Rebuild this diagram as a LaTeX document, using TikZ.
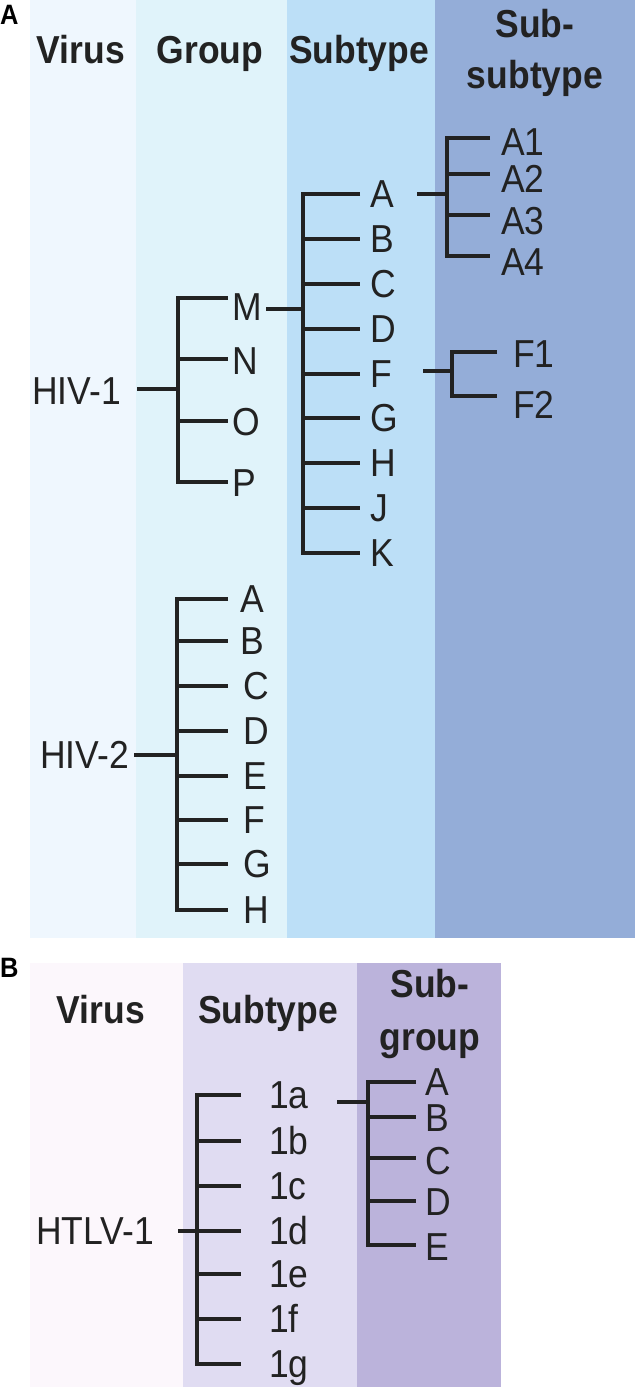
\documentclass[tikz,border=0pt]{standalone}
\usepackage{fontspec}
\setmainfont{Liberation Sans}[FakeStretch=0.91]
\definecolor{aV}{HTML}{EFF7FE}
\definecolor{aG}{HTML}{E0F3FA}
\definecolor{aS}{HTML}{BCDFF7}
\definecolor{aSS}{HTML}{94ADD8}
\definecolor{bV}{HTML}{FCF7FC}
\definecolor{bS}{HTML}{E0DCF2}
\definecolor{bSG}{HTML}{BBB3DB}
\definecolor{ink}{HTML}{222222}
\begin{document}
\begin{tikzpicture}[x=1pt,y=-1pt,
  lbl/.style={anchor=west,inner sep=0pt,text height=27.9pt,text depth=0pt,font=\fontsize{39}{42}\selectfont,text=ink},
  hdr/.style={anchor=base,inner sep=0pt,font=\fontsize{39}{42}\selectfont\bfseries,text=ink},
  panel/.style={anchor=base west,inner sep=0pt,font=\fontsize{28}{30}\selectfont\bfseries,text=black},
  br/.style={draw=ink,line width=3.2pt}]
\useasboundingbox (0,0) rectangle (635,1387);
\fill[white] (0,0) rectangle (635,1387);
% ---------- panel A columns
\fill[aV] (30,0) rectangle (136,938);
\fill[aG] (136,0) rectangle (287,938);
\fill[aS] (287,0) rectangle (435,938);
\fill[aSS] (435,0) rectangle (635,938);
% ---------- panel B columns
\fill[bV] (30,963) rectangle (183,1387);
\fill[bS] (183,963) rectangle (357,1387);
\fill[bSG] (357,963) rectangle (501,1387);
% ---------- panel labels and headers
\node[panel] (pA) at (0,24) {A};
\node[hdr] (hVirusA) at (81,63) {Virus};
\node[hdr] (hGroupA) at (210,63) {Group};
\node[hdr] (hSubA) at (359,63) {Subtype};
\node[hdr] (hSSa) at (535,37) {Sub-};
\node[hdr] (hSSb) at (535,88) {subtype};
\node[panel] (pB) at (0,977) {B};
\node[hdr] (hVirusB) at (101,1023) {Virus};
\node[hdr] (hSubB) at (268,1023) {Subtype};
\node[hdr] (hSGa) at (430,997) {Sub-};
\node[hdr] (hSGb) at (430,1050) {group};
% ---------- HIV-1 -> groups
\node[lbl] (hiv1) at (32,391) {HIV-1};
\coordinate (s1) at (137,389);
\coordinate (v1) at (178,389);
\foreach \n/\y/\ty in {M/298/307,N/359/361,O/421/422,P/482/483}{
  \coordinate (g\n) at (228,\y);
  \node[lbl] (G\n) at (232,\ty) {\n};
}
\draw[br] (s1) -- (v1);
\draw[br] (gM) -- (v1 |- gM) -- (v1 |- gP) -- (gP);
\draw[br] (v1 |- gN) -- (gN);
\draw[br] (v1 |- gO) -- (gO);
% ---------- group M -> subtypes
\coordinate (s2) at (266,309);
\coordinate (v2) at (303,309);
\foreach \n/\y in {A/194,B/239,C/284,D/329,F/374,G/418,H/463,J/508,K/553}{
  \coordinate (b1\n) at (360,\y);
  \node[lbl] (T1\n) at (370,\y) {\n};
}
\draw[br] (s2) -- (v2);
\draw[br] (b1A) -- (v2 |- b1A) -- (v2 |- b1K) -- (b1K);
\foreach \n in {B,C,D,F,G,H,J}{\draw[br] (v2 |- b1\n) -- (b1\n);}
% ---------- subtype A -> sub-subtypes
\coordinate (s3) at (417,194);
\coordinate (v3) at (447,194);
\foreach \n/\y/\ty in {A1/138/142,A2/174/179,A3/215/221,A4/256/262}{
  \coordinate (c\n) at (490,\y);
  \node[lbl] (S\n) at (501,\ty) {\n};
}
\draw[br] (s3) -- (v3);
\draw[br] (cA1) -- (v3 |- cA1) -- (v3 |- cA4) -- (cA4);
\draw[br] (v3 |- cA2) -- (cA2);
\draw[br] (v3 |- cA3) -- (cA3);
% ---------- subtype F -> sub-subtypes
\coordinate (s4) at (423,371);
\coordinate (v4) at (452,371);
\coordinate (cF1) at (497,352);
\coordinate (cF2) at (497,396);
\node[lbl] (SF1) at (513,354) {F1};
\node[lbl] (SF2) at (513,405) {F2};
\draw[br] (s4) -- (v4);
\draw[br] (cF1) -- (v4 |- cF1) -- (v4 |- cF2) -- (cF2);
% ---------- HIV-2 -> groups
\node[lbl] (hiv2) at (40,755) {HIV-2};
\coordinate (s5) at (134,755);
\coordinate (v5) at (177,755);
\foreach \n/\y/\tx in {A/599/240,B/641/240,C/686/243,D/731/243,E/776/243,F/820/243,G/864/243,H/910/243}{
  \coordinate (b2\n) at (228,\y);
  \node[lbl] (T2\n) at (\tx,\y) {\n};
}
\draw[br] (s5) -- (v5);
\draw[br] (b2A) -- (v5 |- b2A) -- (v5 |- b2H) -- (b2H);
\foreach \n in {B,C,D,E,F,G}{\draw[br] (v5 |- b2\n) -- (b2\n);}
% ---------- HTLV-1 -> subtypes
\node[lbl] (htlv) at (36,1231) {HTLV-1};
\coordinate (s6) at (178,1231);
\coordinate (v6) at (197,1231);
\foreach \n/\y in {a/1095,b/1141,c/1186,d/1231,e/1274,f/1319,g/1364}{
  \coordinate (b3\n) at (241,\y);
  \node[lbl] (T3\n) at (269,\y) {1\n};
}
\draw[br] (s6) -- (v6);
\draw[br] (b3a) -- (v6 |- b3a) -- (v6 |- b3g) -- (b3g);
\foreach \n in {b,c,d,e,f}{\draw[br] (v6 |- b3\n) -- (b3\n);}
% ---------- 1a -> subgroups
\coordinate (s7) at (337,1102);
\coordinate (v7) at (368,1102);
\foreach \n/\y/\ty in {A/1082/1082,B/1117/1118,C/1158/1161,D/1201/1202,E/1245/1247}{
  \coordinate (b4\n) at (416,\y);
  \node[lbl] (T4\n) at (425,\ty) {\n};
}
\draw[br] (s7) -- (v7);
\draw[br] (b4A) -- (v7 |- b4A) -- (v7 |- b4E) -- (b4E);
\foreach \n in {B,C,D}{\draw[br] (v7 |- b4\n) -- (b4\n);}
\end{tikzpicture}
\end{document}
